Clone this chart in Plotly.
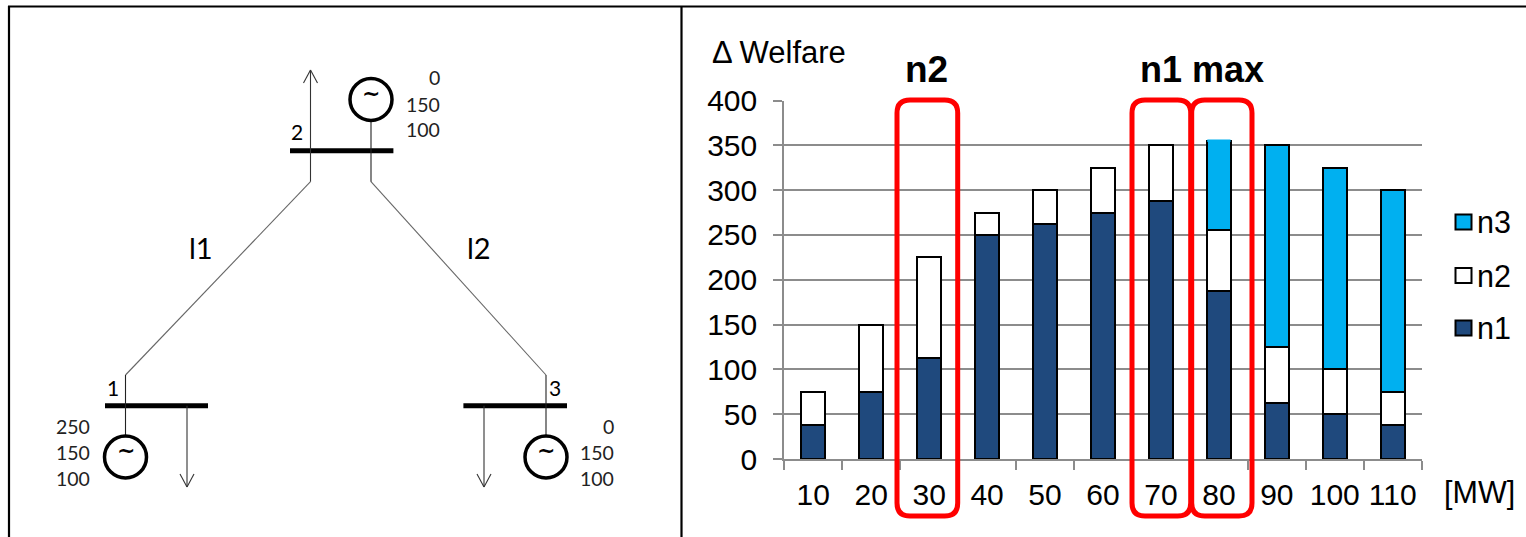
import plotly.graph_objects as go

W, H = 1526, 537

# ---- chart data ----
categories = ["10", "20", "30", "40", "50", "60", "70", "80", "90", "100", "110"]
n1 = [37.5, 75, 112.5, 250, 262.5, 275, 287.5, 187.5, 62.5, 50, 37.5]
n2 = [37.5, 75, 112.5, 25, 37.5, 50, 62.5, 67.5, 62.5, 50, 37.5]
n3 = [None, None, None, None, None, None, None, 100, 225, 225, 225]
y_ticks = [0, 50, 100, 150, 200, 250, 300, 350, 400]
series_names = ["n3", "n2", "n1"]
series_colors = {"n1": "#1F497D", "n2": "#FFFFFF", "n3": "#00B0F0"}
series_values = {"n1": n1, "n2": n2, "n3": n3}

# ---- network diagram labels ----
gen_labels_top = ["0", "150", "100"]
gen_labels_left = ["250", "150", "100"]
gen_labels_right = ["0", "150", "100"]

ARIAL = "Liberation Sans"
CAL = "Lato"
GRID = "#8C8C8C"


def fx(x):
    return x / W


def fy(y):
    return 1 - y / H


shapes = []
annotations = []


def line(x0, y0, x1, y1, color="#000000", width=1.0, layer="above"):
    shapes.append(dict(type="line", xref="paper", yref="paper", x0=fx(x0), y0=fy(y0),
                       x1=fx(x1), y1=fy(y1), line=dict(color=color, width=width), layer=layer))


def circle(cx, cy, r):
    shapes.append(dict(type="circle", xref="paper", yref="paper", x0=fx(cx - r), x1=fx(cx + r),
                       y0=fy(cy - r), y1=fy(cy + r), line=dict(color="#000000", width=3.5),
                       fillcolor="rgba(0,0,0,0)"))


def text(x, y, s, size, family=CAL, bold=False, anchor="center", color="#000000"):
    annotations.append(dict(xref="paper", yref="paper", x=fx(x), y=fy(y), text=f"<b>{s}</b>" if bold else s,
                            showarrow=False, xanchor=anchor, yanchor="middle",
                            font=dict(family=family, size=size, color=color),
                            borderpad=0, borderwidth=0))


def arrow(x, y0, y1):
    d = 1 if y1 > y0 else -1
    line(x, y0, x, y1, "#333333", 1.1)
    line(x, y1, x - 7, y1 - d * 13, "#333333", 1.1)
    line(x, y1, x + 7, y1 - d * 13, "#333333", 1.1)


def round_rect(x0, y0, x1, y1, r=13):
    p = (f"M {fx(x0 + r)} {fy(y0)} L {fx(x1 - r)} {fy(y0)} Q {fx(x1)} {fy(y0)} {fx(x1)} {fy(y0 + r)} "
         f"L {fx(x1)} {fy(y1 - r)} Q {fx(x1)} {fy(y1)} {fx(x1 - r)} {fy(y1)} "
         f"L {fx(x0 + r)} {fy(y1)} Q {fx(x0)} {fy(y1)} {fx(x0)} {fy(y1 - r)} "
         f"L {fx(x0)} {fy(y0 + r)} Q {fx(x0)} {fy(y0)} {fx(x0 + r)} {fy(y0)} Z")
    shapes.append(dict(type="path", xref="paper", yref="paper", path=p,
                       line=dict(color="#FF0000", width=5), fillcolor="rgba(0,0,0,0)"))


# frame
line(8, 6.5, W, 6.5, "#000000", 2.2)
line(9, 6, 9, H, "#000000", 2.2)
line(681.5, 6, 681.5, H, "#000000", 2.2)

# network: buses
line(290, 150.7, 393.4, 150.7, "#000000", 5)
line(105, 405.7, 208, 405.7, "#000000", 5)
line(463.4, 405.7, 567, 405.7, "#000000", 5)

# network: branches
line(310.5, 181.7, 125.5, 375, "#666666", 1.1)
line(371, 181.7, 546, 375, "#666666", 1.1)
line(371, 121, 371, 181.7, "#222222", 1.1)
line(125.5, 375, 125.5, 436, "#222222", 1.1)
line(546, 375, 546, 436, "#222222", 1.1)
arrow(310.5, 181.7, 70)
arrow(187, 405.7, 487)
arrow(484, 405.7, 487)

# network: generators
for cx, cy in [(371, 99.5), (125.5, 457), (546, 457)]:
    circle(cx, cy, 21)
    text(cx, cy - 6, "~", 22, family="DejaVu Sans", bold=True)

# network: labels
for lab, yy in zip(gen_labels_top, [77, 104, 130]):
    text(440, yy, lab, 19.5, anchor="right", color="#222222")
for lab, yy in zip(gen_labels_left, [426.5, 452.5, 478.5]):
    text(90, yy, lab, 19.5, anchor="right", color="#222222")
for lab, yy in zip(gen_labels_right, [426.5, 452.5, 478.5]):
    text(614, yy, lab, 19.5, anchor="right", color="#222222")
text(297, 132, "2", 21)
text(113, 387, "1", 21)
text(555, 387, "3", 21)
text(201.5, 248, "l1", 29)
text(479, 248, "l2", 29)

# chart: highlights
round_rect(897, 100, 957.7, 516)
round_rect(1132, 100, 1190.7, 516)
round_rect(1191.7, 100, 1252, 516)

# chart: titles
text(779, 52, "\u0394 Welfare", 31, family=ARIAL)
text(927, 69, "n2", 37, family=ARIAL, bold=True)
text(1201.7, 69.5, "n1 max", 36, family=ARIAL, bold=True)
text(1479, 492, "[MW]", 30.5, family=ARIAL)

# chart: legend
for name, yy in zip(series_names, [222, 275.5, 328]):
    shapes.append(dict(type="rect", xref="paper", yref="paper", x0=fx(1455.5), x1=fx(1471.5),
                       y0=fy(yy - 7.5), y1=fy(yy + 7.5), fillcolor=series_colors[name],
                       line=dict(color="#000000", width=2)))
    text(1477, yy, name, 30.5, family=ARIAL, anchor="left")

# the top of the 80 MW bar is cut off in the source: hide its outline
shapes.append(dict(type="line", xref="x", yref="y", x0=6.8, x1=7.2, y0=355, y1=355,
                   line=dict(color=series_colors["n3"], width=2.5), layer="above"))

fig = go.Figure()
for name in ["n1", "n2", "n3"]:
    fig.add_trace(go.Bar(x=categories, y=series_values[name], name=name,
                         marker=dict(color=series_colors[name], line=dict(color="#000000", width=2)),
                         showlegend=False))

fig.update_layout(
    width=W, height=H, autosize=False, barmode="stack", bargap=0.585,
    margin=dict(l=0, r=0, t=0, b=0), paper_bgcolor="#FFFFFF", plot_bgcolor="#FFFFFF",
    font=dict(family=ARIAL, color="#000000"), shapes=shapes, annotations=annotations,
    xaxis=dict(domain=[784.3 / W, 1421.7 / W], type="category", categoryorder="array",
               categoryarray=categories, tickson="boundaries", ticks="outside", ticklen=9,
               tickwidth=2, tickcolor=GRID, showline=True, linecolor=GRID, linewidth=2.2,
               showgrid=False, tickfont=dict(size=30, family=ARIAL), ticklabelstandoff=8,
               tickangle=0, automargin=False, zeroline=False),
    yaxis=dict(domain=[1 - 459 / H, 1 - 100.5 / H], range=[0, 400], tickvals=y_ticks,
               ticks="outside", ticklen=9, tickwidth=2.2, tickcolor=GRID, showline=True,
               linecolor=GRID, linewidth=2.2, showgrid=True, gridcolor=GRID, gridwidth=2.2,
               tickfont=dict(size=30, family=ARIAL), ticklabelstandoff=10,
               automargin=False, zeroline=False),
)

fig.write_html("out.html", config=dict(displayModeBar=False),
               post_script="document.body.style.margin='0';document.body.style.overflow='hidden';")
